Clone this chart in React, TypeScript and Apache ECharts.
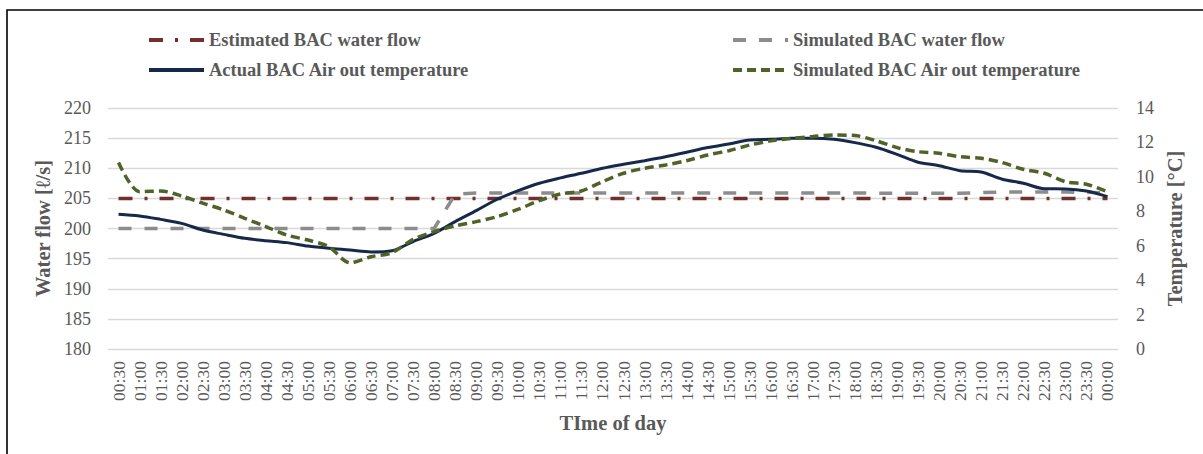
import React, { useEffect, useRef } from "react";
import * as echarts from "echarts";

const categories = [
  "00:30", "01:00", "01:30", "02:00", "02:30", "03:00", "03:30", "04:00",
  "04:30", "05:00", "05:30", "06:00", "06:30", "07:00", "07:30", "08:00",
  "08:30", "09:00", "09:30", "10:00", "10:30", "11:00", "11:30", "12:00",
  "12:30", "13:00", "13:30", "14:00", "14:30", "15:00", "15:30", "16:00",
  "16:30", "17:00", "17:30", "18:00", "18:30", "19:00", "19:30", "20:00",
  "20:30", "21:00", "21:30", "22:00", "22:30", "23:00", "23:30", "00:00",
];

const estimatedFlow = [
  205, 205, 205, 205, 205, 205, 205, 205, 205, 205, 205, 205, 205, 205, 205, 205,
  205, 205, 205, 205, 205, 205, 205, 205, 205, 205, 205, 205, 205, 205, 205, 205,
  205, 205, 205, 205, 205, 205, 205, 205, 205, 205, 205, 205, 205, 205, 205, 205,
];

const simulatedFlow = [
  200, 200, 200, 200, 200, 200, 200, 200, 200, 200, 200, 200, 200, 200, 200, 200,
  205.7, 205.9, 205.9, 205.9, 205.9, 205.9, 205.9, 205.9, 205.9, 205.9, 205.9, 205.9,
  205.9, 205.9, 205.9, 205.9, 205.9, 205.9, 205.9, 205.9, 205.85, 205.85, 205.85, 205.85,
  205.85, 205.95, 206.05, 206.05, 206.05, 206.05, 206.0, 205.9,
];

const actualTemp = [
  7.83, 7.73, 7.53, 7.30, 6.91, 6.66, 6.43, 6.29, 6.18, 5.98, 5.85, 5.75, 5.64, 5.71,
  6.24, 6.72, 7.40, 8.04, 8.70, 9.20, 9.63, 9.94, 10.21, 10.50, 10.73, 10.94, 11.17,
  11.43, 11.70, 11.91, 12.14, 12.18, 12.24,
  12.24, 12.18, 11.99, 11.72, 11.31, 10.85, 10.65, 10.36, 10.28, 9.86, 9.63, 9.31,
  9.30, 9.18, 8.85,
];

const simulatedTemp = [
  10.83, 9.14, 9.18, 8.89, 8.47, 8.08, 7.59, 7.11, 6.62, 6.33, 5.94, 5.01, 5.36, 5.60,
  6.37, 6.82, 7.15, 7.40, 7.69, 8.12, 8.62, 9.01, 9.18, 9.72, 10.21, 10.50, 10.69,
  10.94, 11.27, 11.52, 11.85, 12.09, 12.24,
  12.34, 12.43, 12.40, 12.10, 11.70, 11.46, 11.37, 11.17, 11.08, 10.83, 10.44, 10.21,
  9.72, 9.57, 9.14,
];

const FONT = "'Liberation Serif', 'Times New Roman', serif";
const TEXT = "#595959";

export default function App() {
  const ref = useRef<HTMLDivElement>(null);

  useEffect(() => {
    document.body.style.margin = "0";
    if (!ref.current) return;
    const chart = echarts.init(ref.current, undefined, { renderer: "svg" });

    const legendText = {
      fontFamily: FONT,
      fontSize: 18.5,
      fontWeight: "bold" as const,
      color: TEXT,
      lineHeight: 20,
    };
    const titleText = {
      fontFamily: FONT,
      fontSize: 20.5,
      fontWeight: "bold" as const,
      color: TEXT,
    };

    chart.setOption({
      animation: false,
      backgroundColor: "#ffffff",
      textStyle: { fontFamily: FONT },
      graphic: [
        {
          type: "rect",
          shape: { x: 7, y: 10, width: 1210, height: 460 },
          style: { fill: "none", stroke: "#000000", lineWidth: 1.6 },
          silent: true,
          z: 100,
        },
      ],
      legend: [
        {
          orient: "vertical",
          left: 142,
          top: 25,
          itemWidth: 55,
          itemHeight: 14,
          itemGap: 10,
          itemStyle: { opacity: 0 },
          lineStyle: { width: 4 },
          textStyle: legendText,
          data: ["Estimated BAC water flow", "Actual BAC Air out temperature"],
        },
        {
          orient: "vertical",
          left: 726,
          top: 25,
          itemWidth: 55,
          itemHeight: 14,
          itemGap: 10,
          itemStyle: { opacity: 0 },
          lineStyle: { width: 4 },
          textStyle: legendText,
          data: ["Simulated BAC water flow", "Simulated BAC Air out temperature"],
        },
      ],
      grid: { left: 108, right: 85, top: 108, bottom: 105 },
      xAxis: {
        type: "category",
        data: categories,
        boundaryGap: true,
        axisLine: { show: false },
        axisTick: { show: false },
        axisLabel: {
          rotate: 90,
          interval: 0,
          margin: 12,
          fontFamily: FONT,
          fontSize: 17.5,
          color: TEXT,
        },
        name: "TIme of day",
        nameLocation: "middle",
        nameGap: 63,
        nameTextStyle: titleText,
      },
      yAxis: [
        {
          type: "value",
          min: 180,
          max: 220,
          interval: 5,
          axisLine: { show: false },
          axisTick: { show: false },
          splitLine: { lineStyle: { color: "#d9d9d9", width: 1.3 } },
          axisLabel: {
            margin: 17,
            fontFamily: FONT,
            fontSize: 18,
            color: TEXT,
          },
          name: "Water flow [ℓ/s]",
          nameLocation: "middle",
          nameGap: 51,
          nameTextStyle: titleText,
        },
        {
          type: "value",
          min: 0,
          max: 14,
          interval: 2,
          axisLine: { show: false },
          axisTick: { show: false },
          splitLine: { show: false },
          axisLabel: {
            margin: 18,
            fontFamily: FONT,
            fontSize: 18,
            color: TEXT,
          },
          name: "Temperature [°C]",
          nameLocation: "middle",
          nameGap: 45,
          nameTextStyle: titleText,
        },
      ],
      series: [
        {
          name: "Estimated BAC water flow",
          type: "line",
          yAxisIndex: 0,
          data: estimatedFlow,
          symbol: "none",
          color: "#722f2c",
          lineStyle: { color: "#722f2c", width: 3.5, type: [14, 12, 3, 12], cap: "butt" },
          z: 2,
        },
        {
          name: "Simulated BAC water flow",
          type: "line",
          yAxisIndex: 0,
          data: simulatedFlow,
          symbol: "none",
          color: "#8c8c8c",
          lineStyle: { color: "#8c8c8c", width: 3.5, type: [13, 13], cap: "butt" },
          z: 3,
        },
        {
          name: "Actual BAC Air out temperature",
          type: "line",
          yAxisIndex: 1,
          data: actualTemp,
          symbol: "none",
          smooth: 0.3,
          color: "#17294a",
          lineStyle: { color: "#17294a", width: 3 },
          z: 4,
        },
        {
          name: "Simulated BAC Air out temperature",
          type: "line",
          yAxisIndex: 1,
          data: simulatedTemp,
          symbol: "none",
          smooth: 0.3,
          color: "#4f6228",
          lineStyle: { color: "#4f6228", width: 3.5, type: [9, 5], cap: "butt" },
          z: 5,
        },
      ],
    });

    return () => chart.dispose();
  }, []);

  return <div ref={ref} style={{ width: 1203, height: 454 }} />;
}
